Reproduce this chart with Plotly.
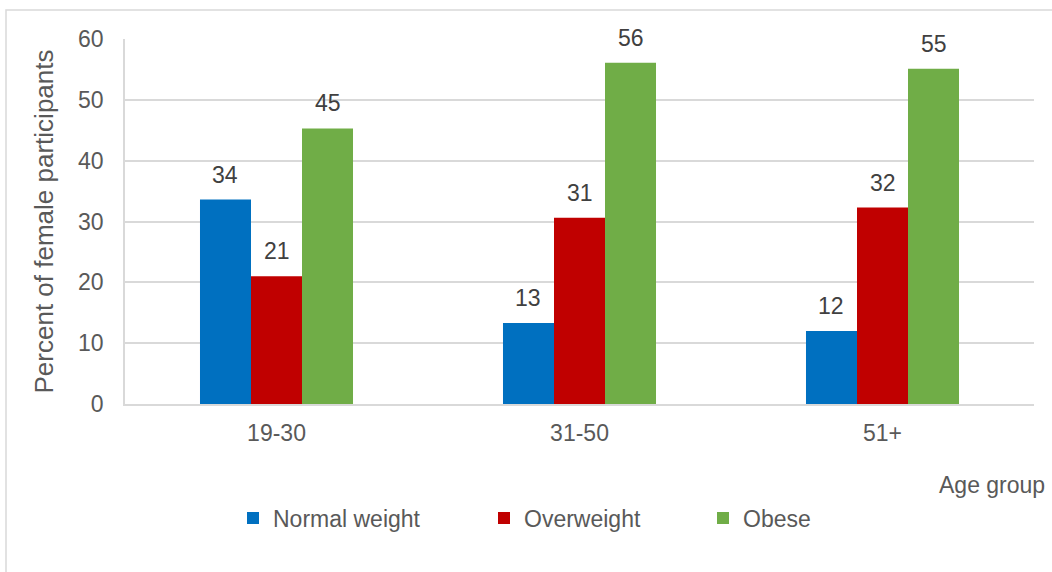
import plotly.graph_objects as go

age_groups = ["19-30", "31-50", "51+"]
normal_weight = [33.6, 13.3, 12.0]
overweight = [21.0, 30.6, 32.3]
obese = [45.3, 56.1, 55.1]
series_names = ["Normal weight", "Overweight", "Obese"]
y_ticks = [0, 10, 20, 30, 40, 50, 60]

colors = ["#0070C0", "#C00000", "#70AD47"]
FONT = "Liberation Sans, Arial, sans-serif"
TXT = "#595959"
FS = 23

W, H = 1052, 572
ML, MR, MT, MB = 125, 18, 39, 168
PW = W - ML - MR
PH = H - MT - MB

def px_x(p):
    return (p - ML) / PW

def px_y(p):
    return (H - MB - p) / PH

fig = go.Figure()
all_series = [normal_weight, overweight, obese]
legend_ids = ["legend", "legend2", "legend3"]
for name, vals, col, lg in zip(series_names, all_series, colors, legend_ids):
    fig.add_trace(go.Bar(
        x=age_groups, y=vals, name=name,
        marker=dict(color=col, line=dict(width=0)),
        legend=lg,
    ))

# value labels above bars
bar_w = PW / len(age_groups) * (1 - 0.495) / 3
offsets = [-bar_w, 0, bar_w]
for vals, off in zip(all_series, offsets):
    for cat, v in zip(age_groups, vals):
        fig.add_annotation(
            x=cat, y=v, xref="x", yref="y", text=f"{round(v):d}",
            showarrow=False, xshift=off, yshift=10, yanchor="bottom",
            font=dict(family=FONT, size=FS, color="#404040"),
        )

fig.add_annotation(
    x=px_x(1047), y=px_y(485), xref="paper", yref="paper", text="Age group",
    showarrow=False, xanchor="right", yanchor="middle",
    font=dict(family=FONT, size=FS, color=TXT),
)

fig.add_shape(
    type="rect", xref="paper", yref="paper",
    x0=px_x(6), x1=px_x(1062), y0=px_y(590), y1=px_y(10),
    line=dict(color="#D9D9D9", width=1.5), fillcolor="rgba(0,0,0,0)", layer="below",
)

legend_common = dict(
    orientation="h", yanchor="middle", xanchor="left",
    font=dict(family=FONT, size=FS, color=TXT),
    bgcolor="rgba(0,0,0,0)", borderwidth=0,
)
legend_x = [233, 484, 703]

fig.update_layout(
    width=W, height=H,
    margin=dict(l=ML, r=MR, t=MT, b=MB, autoexpand=False),
    paper_bgcolor="white", plot_bgcolor="white",
    barmode="group", bargap=0.495, bargroupgap=0,
    font=dict(family=FONT, size=FS, color=TXT),
    showlegend=True,
    legend=dict(x=px_x(legend_x[0]), y=px_y(518), **legend_common),
    legend2=dict(x=px_x(legend_x[1]), y=px_y(518), **legend_common),
    legend3=dict(x=px_x(legend_x[2]), y=px_y(518), **legend_common),
    xaxis=dict(
        showgrid=False, showline=True, linecolor="#D9D9D9", linewidth=2,
        ticks="", tickfont=dict(family=FONT, size=FS, color=TXT),
        ticklabelstandoff=7,
    ),
    yaxis=dict(
        range=[0, 60], tickvals=y_ticks, showgrid=True, gridcolor="#D9D9D9",
        gridwidth=1.5, zeroline=False, showline=True, linecolor="#D9D9D9",
        linewidth=1.5, ticks="", ticklabelstandoff=15,
        tickfont=dict(family=FONT, size=FS, color=TXT),
        title=dict(text="Percent of female participants",
                   font=dict(family=FONT, size=26, color=TXT), standoff=17),
        automargin=False,
    ),
)

fig.write_html("out.html")
